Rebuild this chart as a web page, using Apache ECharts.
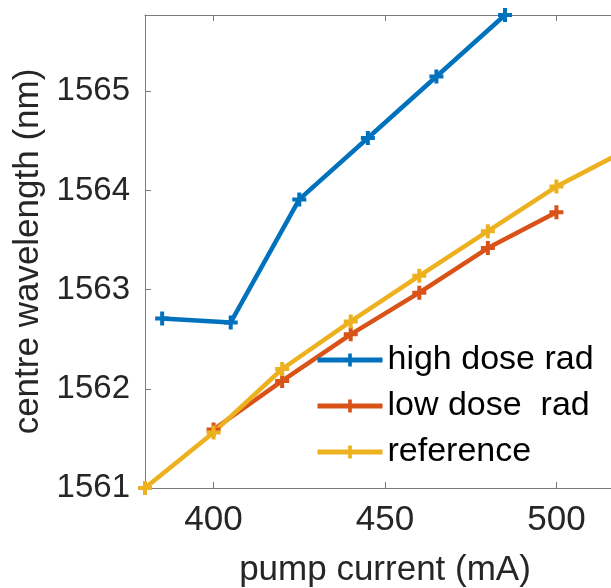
<!DOCTYPE html>
<html>
<head>
<meta charset="utf-8">
<script src="https://cdn.jsdelivr.net/npm/echarts@6/dist/echarts.min.js"></script>
<style>
  html, body { margin: 0; padding: 0; background: #fff; }
  #main { width: 611px; height: 588px; }
</style>
</head>
<body>
<div id="main"></div>
<script>
var chartDom = document.getElementById('main');
var myChart = echarts.init(chartDom);

// data
let highDoseX = [385, 405, 425, 445, 465, 485];
let highDoseY = [1562.71, 1562.67, 1563.91, 1564.53, 1565.15, 1565.77];
let lowDoseX = [400, 420, 440, 460, 480, 500];
let lowDoseY = [1561.59, 1562.08, 1562.55, 1562.97, 1563.42, 1563.78];
let refX = [380, 400, 420, 440, 460, 480, 500, 520];
let refY = [1561.0, 1561.56, 1562.2, 1562.68, 1563.14, 1563.59, 1564.04, 1564.40];
let xTicks = [400, 450, 500];
let names = ['high dose rad', 'low dose  rad', 'reference'];
let colors = ['#0072BD', '#D95319', '#EDB120'];

function pairs(xs, ys) {
  let out = [];
  for (var i = 0; i < xs.length; i++) out.push([xs[i], ys[i]]);
  return out;
}

let font = "'Liberation Sans', Arial, sans-serif";
let plus = 'path://M-2,-7H2V-2H7V2H2V7H-2V2H-7V-2H-2Z';
let axisColor = '#7a7a7a';
let textColor = '#262626';

function makeSeries(name, data, color) {
  return {
    name: name,
    type: 'line',
    data: data,
    symbol: plus,
    symbolSize: 14,
    showAllSymbol: true,
    lineStyle: { width: 4.5, color: color },
    itemStyle: { color: color },
    emphasis: { disabled: true }
  };
}

var option = {
  animation: false,
  textStyle: { fontFamily: font },
  // the picture is cropped on the right: the axis runs on to 520
  grid: { left: 145, top: 15, right: -14, bottom: 100, containLabel: false, outerBoundsMode: 'none' },
  legend: {
    left: 315,
    top: 343,
    padding: 0,
    orient: 'vertical',
    itemWidth: 65,
    itemHeight: 16,
    itemGap: 12,
    data: names,
    lineStyle: { width: 5 },
    textStyle: { fontFamily: font, fontSize: 34, color: '#000' }
  },
  xAxis: [
    {
      type: 'value',
      min: 380,
      max: 520,
      position: 'bottom',
      name: 'pump current (mA)',
      nameLocation: 'middle',
      nameGap: 65,
      nameTextStyle: { fontFamily: font, fontSize: 35, color: textColor },
      axisLine: { show: true, lineStyle: { color: axisColor, width: 1 } },
      axisTick: { show: true, inside: true, length: 6, customValues: xTicks, lineStyle: { color: axisColor } },
      axisLabel: { customValues: xTicks, margin: 15, fontFamily: font, fontSize: 35, color: textColor },
      splitLine: { show: false }
    },
    {
      type: 'value',
      min: 380,
      max: 520,
      position: 'top',
      axisLine: { show: true, lineStyle: { color: axisColor, width: 1 } },
      axisTick: { show: true, inside: true, length: 6, customValues: xTicks, lineStyle: { color: axisColor } },
      axisLabel: { show: false },
      splitLine: { show: false }
    }
  ],
  yAxis: {
    type: 'value',
    min: 1561,
    max: 1565.77,
    interval: 1,
    name: 'centre wavelength (nm)',
    nameLocation: 'middle',
    nameGap: 76,
    nameTextStyle: { fontFamily: font, fontSize: 35, color: textColor },
    axisLine: { show: true, lineStyle: { color: axisColor, width: 1 } },
    axisTick: { show: true, inside: true, length: 6, lineStyle: { color: axisColor } },
    axisLabel: {
      margin: 15, fontFamily: font, fontSize: 33, color: textColor, showMaxLabel: false,
      formatter: function (v) { return String(v); }
    },
    splitLine: { show: false }
  },
  series: [
    makeSeries(names[0], pairs(highDoseX, highDoseY), colors[0]),
    makeSeries(names[1], pairs(lowDoseX, lowDoseY), colors[1]),
    makeSeries(names[2], pairs(refX, refY), colors[2])
  ]
};

option && myChart.setOption(option);
</script>
</body>
</html>
